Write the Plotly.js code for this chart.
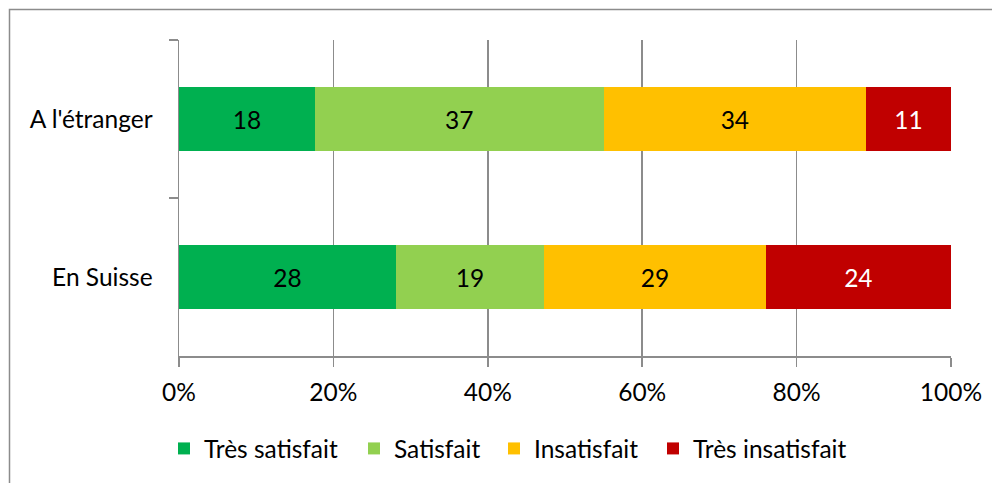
<!DOCTYPE html>
<html>
<head>
<meta charset="utf-8">
<script src="https://cdn.plot.ly/plotly-3.0.1.min.js"></script>
<style>html,body{margin:0;padding:0;background:#fff;}#chart{width:992px;height:483px;}</style>
</head>
<body>
<div id="chart"></div>
<script>
const categories = ["A l'étranger", "En Suisse"];
const seriesNames = ["Très satisfait", "Satisfait", "Insatisfait", "Très insatisfait"];
const tresSatisfait = [17.6, 28.1];
const satisfait = [37.4, 19.2];
const insatisfait = [34.0, 28.7];
const tresInsatisfait = [11.0, 24.0];
const xTickVals = [0, 20, 40, 60, 80, 100];
const xTickText = ["0%", "20%", "40%", "60%", "80%", "100%"];

const colors = ["#00B050", "#92D050", "#FFC000", "#C00000"];
const textColors = ["#000000", "#000000", "#000000", "#FFFFFF"];
const legendWidths = [145, 95, 114, 160];
const seriesValues = [tresSatisfait, satisfait, insatisfait, tresInsatisfait];
const FONT = "Lato, 'Open Sans', sans-serif";
const FS = 24.5;

const traces = seriesValues.map((vals, i) => ({
  type: 'bar',
  orientation: 'h',
  name: seriesNames[i],
  y: categories,
  x: vals,
  marker: {color: colors[i], line: {width: 0}},
  texttemplate: '%{x:.0f}',
  textposition: 'inside',
  insidetextanchor: 'middle',
  textangle: 0,
  textfont: {family: FONT, size: FS, color: textColors[i]},
  legendwidth: legendWidths[i],
  hoverinfo: 'skip'
}));

const L = 179, R = 951, T = 40, B = 356;
const px = v => (v - L) / (R - L);
const py = v => (B - v) / (B - T);

const layout = {
  width: 992, height: 483,
  margin: {l: L, r: 992 - R, t: T, b: 483 - B, pad: 0},
  paper_bgcolor: '#fff', plot_bgcolor: '#fff',
  barmode: 'stack',
  bargap: 0.595,
  showlegend: true,
  font: {family: FONT, size: FS, color: '#000'},
  xaxis: {
    range: [0, 100],
    tickvals: xTickVals, ticktext: xTickText,
    showgrid: true, gridcolor: '#8c8c8c', gridwidth: 1.5,
    showline: true, linecolor: '#8c8c8c', linewidth: 1.5,
    ticks: 'outside', ticklen: 9, tickcolor: '#8c8c8c', tickwidth: 1.5,
    ticklabelstandoff: 5,
    tickfont: {family: FONT, size: FS, color: '#000'},
    zeroline: false, fixedrange: true
  },
  yaxis: {
    type: 'category',
    categoryorder: 'array', categoryarray: categories,
    autorange: 'reversed',
    showgrid: false,
    showline: true, linecolor: '#8c8c8c', linewidth: 1.5,
    ticks: 'outside', ticklen: 9, tickcolor: '#8c8c8c', tickwidth: 1.5,
    tickson: 'boundaries',
    ticklabelstandoff: 20,
    tickfont: {family: FONT, size: FS, color: '#000'},
    zeroline: false, fixedrange: true
  },
  legend: {
    orientation: 'h',
    x: px(164), xanchor: 'left',
    y: py(448.5), yanchor: 'middle',
    traceorder: 'normal',
    font: {family: FONT, size: FS, color: '#000'},
    itemclick: false, itemdoubleclick: false
  },
  shapes: [{
    type: 'rect', xref: 'paper', yref: 'paper',
    x0: px(9.5), x1: px(1100), y0: py(9.5), y1: py(700),
    line: {color: '#8c8c8c', width: 1.5}, fillcolor: 'rgba(0,0,0,0)', layer: 'below'
  }]
};

Plotly.newPlot('chart', traces, layout, {staticPlot: true, displayModeBar: false});
</script>
</body>
</html>
